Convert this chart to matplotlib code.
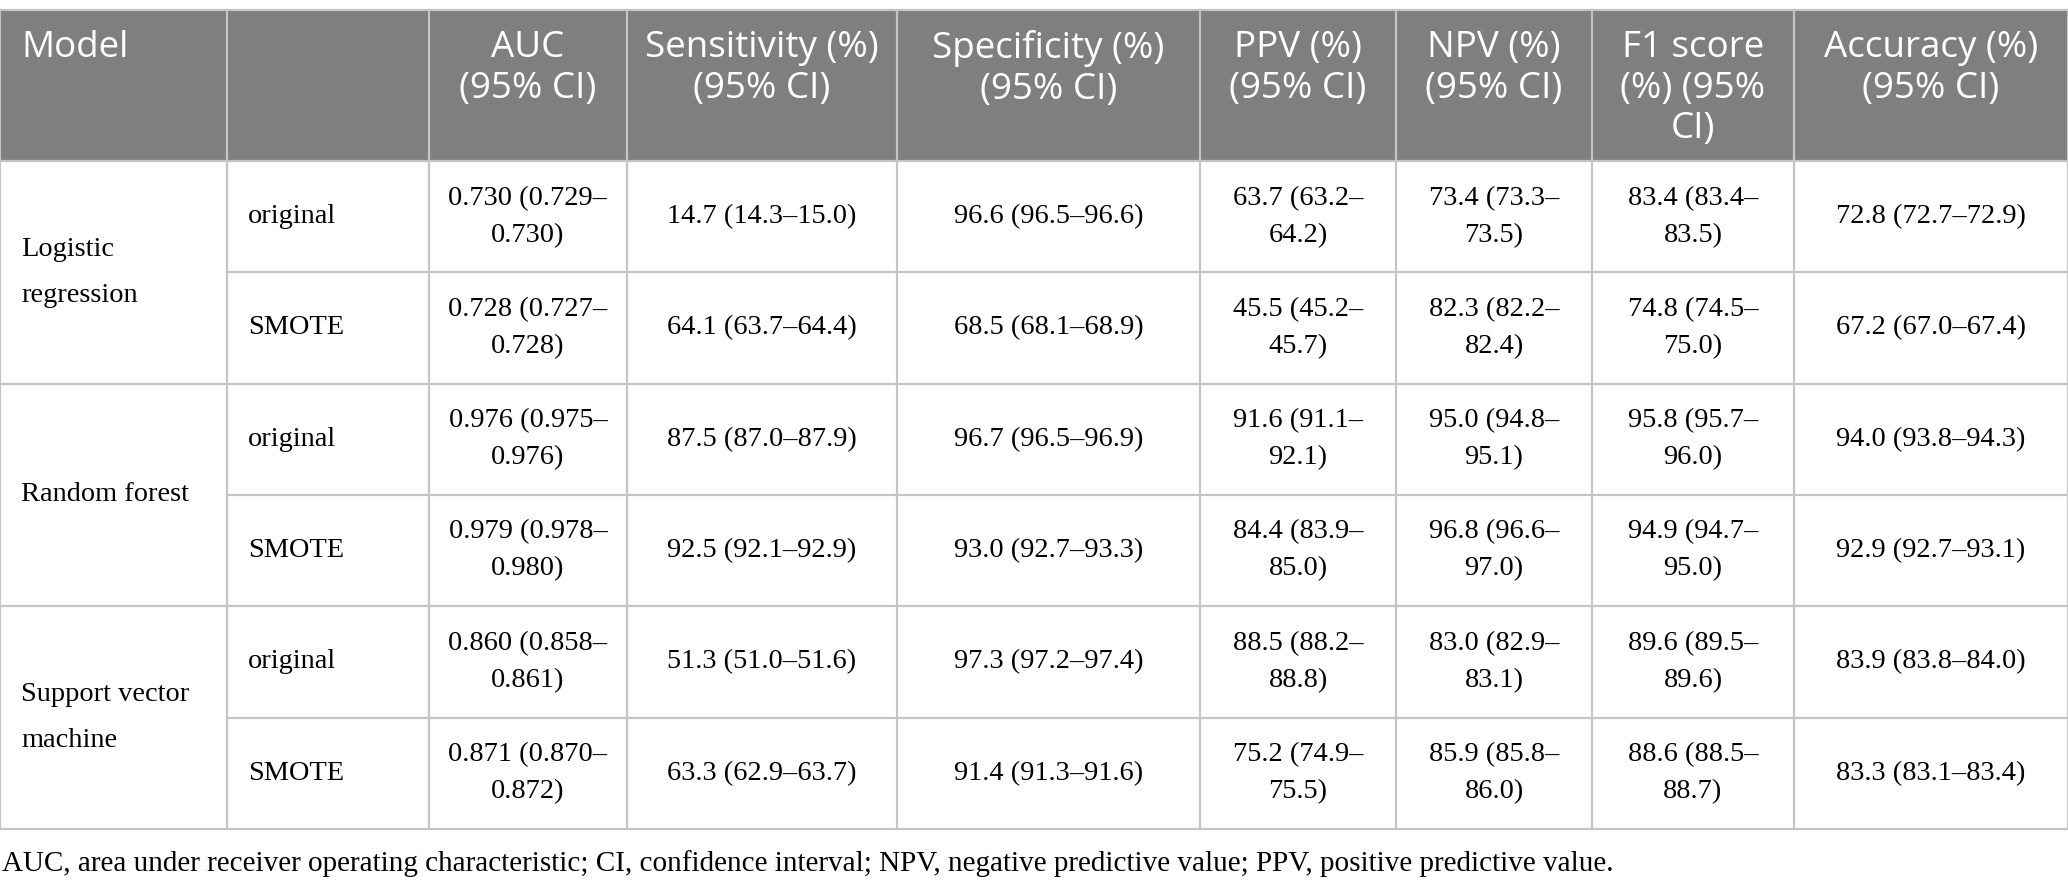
import matplotlib.pyplot as plt
from matplotlib.patches import Rectangle

# ---- table content ----
headers = ["Model", "", "AUC\n(95% CI)", "Sensitivity (%)\n(95% CI)",
           "Specificity (%)\n(95% CI)", "PPV (%)\n(95% CI)", "NPV (%)\n(95% CI)",
           "F1 score\n(%) (95%\nCI)", "Accuracy (%)\n(95% CI)"]
models = ["Logistic\nregression", "Random forest", "Support vector\nmachine"]
methods = ["original", "SMOTE", "original", "SMOTE", "original", "SMOTE"]
auc = ["0.730 (0.729–0.730)", "0.728 (0.727–0.728)", "0.976 (0.975–0.976)",
       "0.979 (0.978–0.980)", "0.860 (0.858–0.861)", "0.871 (0.870–0.872)"]
sensitivity = ["14.7 (14.3–15.0)", "64.1 (63.7–64.4)", "87.5 (87.0–87.9)",
               "92.5 (92.1–92.9)", "51.3 (51.0–51.6)", "63.3 (62.9–63.7)"]
specificity = ["96.6 (96.5–96.6)", "68.5 (68.1–68.9)", "96.7 (96.5–96.9)",
               "93.0 (92.7–93.3)", "97.3 (97.2–97.4)", "91.4 (91.3–91.6)"]
ppv = ["63.7 (63.2–64.2)", "45.5 (45.2–45.7)", "91.6 (91.1–92.1)",
       "84.4 (83.9–85.0)", "88.5 (88.2–88.8)", "75.2 (74.9–75.5)"]
npv = ["73.4 (73.3–73.5)", "82.3 (82.2–82.4)", "95.0 (94.8–95.1)",
       "96.8 (96.6–97.0)", "83.0 (82.9–83.1)", "85.9 (85.8–86.0)"]
f1 = ["83.4 (83.4–83.5)", "74.8 (74.5–75.0)", "95.8 (95.7–96.0)",
      "94.9 (94.7–95.0)", "89.6 (89.5–89.6)", "88.6 (88.5–88.7)"]
accuracy = ["72.8 (72.7–72.9)", "67.2 (67.0–67.4)", "94.0 (93.8–94.3)",
            "92.9 (92.7–93.1)", "83.9 (83.8–84.0)", "83.3 (83.1–83.4)"]
footnote = ("AUC, area under receiver operating characteristic; CI, confidence interval; "
            "NPV, negative predictive value; PPV, positive predictive value.")

value_cols = [auc, sensitivity, specificity, ppv, npv, f1, accuracy]
wrap_col = [True, False, False, True, True, True, False]

# ---- layout (pixels) ----
W, H = 2068, 885
col_x = [0, 227, 429, 627, 897, 1200, 1396, 1592, 1794, 2068]
top, head_bot, row_h = 10, 161, 111.3
grid = "#c4c4c4"
head_bg = "#7f807e"

fig = plt.figure(figsize=(W / 100, H / 100), dpi=100)
ax = fig.add_axes([0, 0, 1, 1])
ax.set_xlim(0, W)
ax.set_ylim(H, 0)
ax.axis("off")

sans = "Open Sans"
serif = "Liberation Serif"
hs = 26.5
bs = 20.4

# header
ax.add_patch(Rectangle((0, top), W, head_bot - top, color=head_bg, lw=0))
ax.plot([0, W], [top, top], color=grid, lw=1.6)
for i, h in enumerate(headers):
    if i == 0:
        ax.text(col_x[0] + 21, top + 20, h, color="white", fontsize=hs,
                family=sans, ha="left", va="top", linespacing=1.17)
    elif h:
        cx = (col_x[i] + col_x[i + 1]) / 2
        ax.text(cx, top + 20, h, color="white", fontsize=hs, family=sans,
                ha="center", va="top", linespacing=1.17, multialignment="center")

# body rows
nrows = len(methods)
bottom = head_bot + row_h * nrows
for r in range(nrows):
    y0 = head_bot + row_h * r
    yc = y0 + row_h / 2
    ax.text(col_x[1] + 21, yc, methods[r], fontsize=bs, family=serif,
            ha="left", va="center")
    for j, col in enumerate(value_cols):
        txt = col[r]
        if wrap_col[j]:
            txt = txt.replace("–", "–\n")
        cx = (col_x[j + 2] + col_x[j + 3]) / 2
        ax.text(cx, yc, txt, fontsize=bs, family=serif, ha="center",
                va="center", linespacing=1.63, multialignment="center")

for m, name in enumerate(models):
    yc = head_bot + row_h * (2 * m + 1)
    ax.text(col_x[0] + 21, yc, name, fontsize=bs, family=serif, ha="left",
            va="center", linespacing=2.09)

# grid lines
ax.plot([0, W], [head_bot, head_bot], color=grid, lw=1.6)
for r in range(1, nrows + 1):
    y = head_bot + row_h * r
    x_start = 0 if r % 2 == 0 else col_x[1]
    ax.plot([x_start, W], [y, y], color=grid, lw=1.6)
for k, x in enumerate(col_x):
    ax.plot([x, x], [top, bottom], color=grid, lw=1.6)

ax.text(2, bottom + 35, footnote, fontsize=21, family=serif, ha="left",
        va="center")

fig.savefig("out.png", dpi=100)
